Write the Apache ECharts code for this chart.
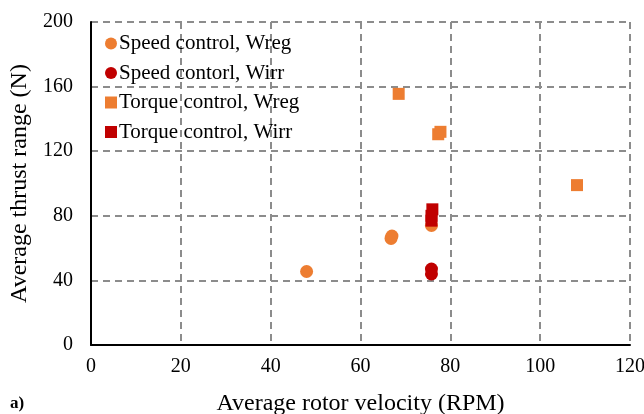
<!DOCTYPE html>
<html><head><meta charset="utf-8">
<script src="https://cdn.jsdelivr.net/npm/echarts@6/dist/echarts.min.js"></script>
<style>html,body{margin:0;padding:0;background:#fff}#c{width:644px;height:414px}</style>
</head><body><div id="c"></div>
<script>
const speedWreg = [[48, 45.5], [66.8, 66], [67, 67.5], [75.8, 74]];
const speedWirr = [[75.8, 44], [75.8, 47]];
const torqueWreg = [[68.5, 155.5], [77.3, 130.5], [77.8, 132], [108.2, 99]];
const torqueWirr = [[75.8, 77], [75.8, 80], [76, 84]];
const seriesNames = ['Speed control, Wreg', 'Speed contorl, Wirr', 'Torque control, Wreg', 'Torque control, Wirr'];
const xTicks = [0, 20, 40, 60, 80, 100, 120];
const yTicks = [0, 40, 80, 120, 160, 200];

const font = 'Liberation Serif';
const chart = echarts.init(document.getElementById('c'));
const gridLine = {show: true, lineStyle: {color: '#8c8c8c', type: [7, 5], width: 2}};
chart.setOption({
  animation: false,
  textStyle: {fontFamily: font},
  grid: {left: 91, right: 14, top: 22, bottom: 69, containLabel: false, outerBoundsMode: 'none'},
  legend: {
    left: 100, top: 28, orient: 'vertical', itemWidth: 12, itemHeight: 12, itemGap: 8.5,
    textStyle: {fontFamily: font, fontSize: 21, color: '#000', padding: [0, 0, 0, -3]},
    data: [
      {name: seriesNames[0], icon: 'circle'},
      {name: seriesNames[1], icon: 'circle'},
      {name: seriesNames[2], icon: 'rect'},
      {name: seriesNames[3], icon: 'rect'}
    ]
  },
  xAxis: {
    type: 'value', min: xTicks[0], max: xTicks[xTicks.length - 1], interval: 20,
    name: 'Average rotor velocity (RPM)', nameLocation: 'middle', nameGap: 47,
    nameTextStyle: {fontFamily: font, fontSize: 24, color: '#000'},
    axisLine: {lineStyle: {color: '#000', width: 2}},
    axisTick: {show: false},
    axisLabel: {fontFamily: font, fontSize: 20, color: '#000', margin: 12},
    splitLine: gridLine
  },
  yAxis: {
    type: 'value', min: yTicks[0], max: yTicks[yTicks.length - 1], interval: 40,
    name: 'Average thrust range (N)', nameLocation: 'middle', nameGap: 51,
    nameTextStyle: {fontFamily: font, fontSize: 24, color: '#000'},
    axisLine: {show: true, lineStyle: {color: '#000', width: 2}},
    axisTick: {show: false},
    axisLabel: {fontFamily: font, fontSize: 20, color: '#000', margin: 18},
    splitLine: gridLine
  },
  graphic: [{type: 'text', left: 10, top: 395, style: {text: 'a)', font: 'bold 17px "Liberation Serif"', fill: '#000'}}],
  series: [
    {name: seriesNames[0], type: 'scatter', symbol: 'circle', symbolSize: 13, itemStyle: {color: '#ED7D31', opacity: 1}, data: speedWreg},
    {name: seriesNames[1], type: 'scatter', symbol: 'circle', symbolSize: 13, itemStyle: {color: '#C00000', opacity: 1}, data: speedWirr},
    {name: seriesNames[2], type: 'scatter', symbol: 'rect', symbolSize: 12, itemStyle: {color: '#ED7D31', opacity: 1}, data: torqueWreg},
    {name: seriesNames[3], type: 'scatter', symbol: 'rect', symbolSize: 12, itemStyle: {color: '#C00000', opacity: 1}, data: torqueWirr}
  ]
});
</script></body></html>
